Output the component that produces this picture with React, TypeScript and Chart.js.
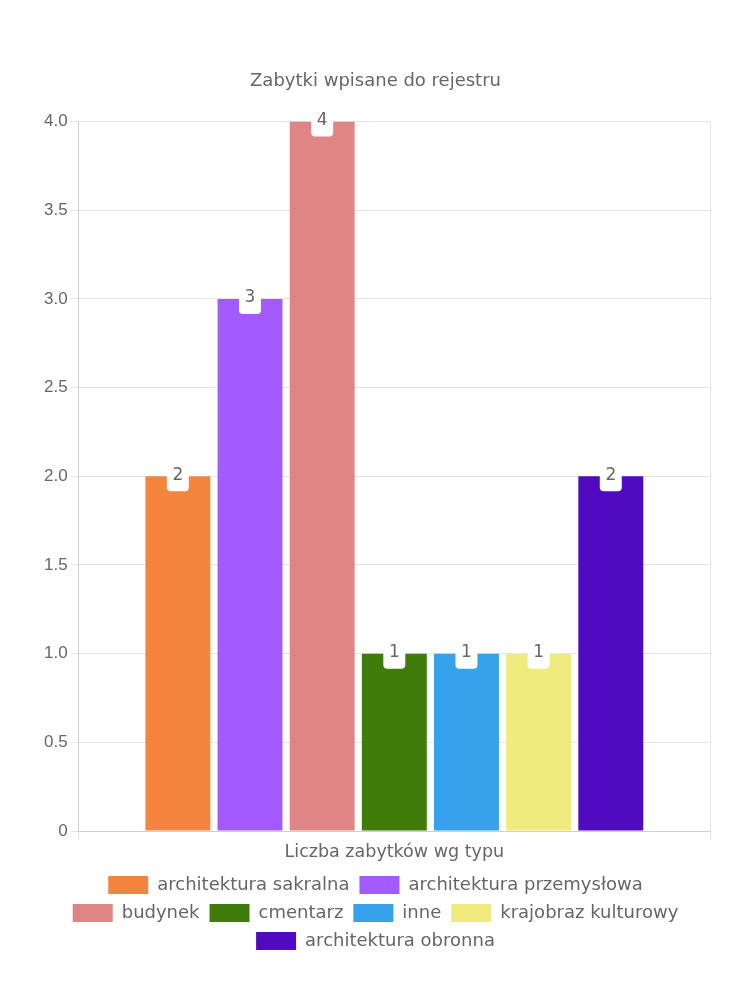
import React, { useEffect, useRef } from "react";
import { Chart, registerables } from "chart.js";

Chart.register(...registerables);

const categories = ["Liczba zabytków wg typu"];
const seriesNames = [
  "architektura sakralna",
  "architektura przemysłowa",
  "budynek",
  "cmentarz",
  "inne",
  "krajobraz kulturowy",
  "architektura obronna",
];
const seriesValues = [2, 3, 4, 1, 1, 1, 2];
const seriesColors = [
  "#F5843F",
  "#A35BFF",
  "#E08585",
  "#3F7C0A",
  "#36A2EB",
  "#F0EB7D",
  "#500BC1",
];
const chartTitle = "Zabytki wpisane do rejestru";

const FONT = "'DejaVu Sans', sans-serif";

const labelPlugin = {
  id: "barTopLabels",
  afterDatasetsDraw(chart: any) {
    const ctx = chart.ctx;
    chart.data.datasets.forEach((ds: any, i: number) => {
      const meta = chart.getDatasetMeta(i);
      meta.data.forEach((bar: any, j: number) => {
        const v = ds.data[j];
        const x = bar.x;
        const y = bar.y;
        ctx.save();
        ctx.fillStyle = "#ffffff";
        ctx.beginPath();
        (ctx as any).roundRect(x - 11, y - 14, 22, 29, 4);
        ctx.fill();
        ctx.fillStyle = "#666666";
        ctx.font = `17px ${FONT}`;
        ctx.textAlign = "center";
        ctx.textBaseline = "middle";
        ctx.fillText(String(v), x, y - 1);
        ctx.restore();
      });
    });
  },
};

export default function App() {
  const ref = useRef<HTMLCanvasElement>(null);
  useEffect(() => {
    if (!ref.current) return;
    const chart = new Chart(ref.current, {
      type: "bar",
      data: {
        labels: categories,
        datasets: seriesNames.map((name, i) => ({
          label: name,
          data: [seriesValues[i]],
          backgroundColor: seriesColors[i],
          borderWidth: 0,
        })),
      },
      options: {
        animation: false,
        responsive: true,
        maintainAspectRatio: false,
        layout: { padding: { left: 33, right: 32, top: 63, bottom: 32 } },
        plugins: {
          title: {
            display: true,
            text: chartTitle,
            color: "#666",
            font: { family: FONT, size: 18, weight: "normal" },
            padding: { top: 0, bottom: 29 },
          },
          legend: {
            position: "bottom",
            labels: {
              color: "#666",
              font: { family: FONT, size: 18, weight: "normal" },
              boxWidth: 40,
              boxHeight: 18,
              padding: 10,
            },
          },
          tooltip: { enabled: false },
        },
        scales: {
          x: {
            grid: { color: "rgba(0,0,0,0.1)", offset: true },
            ticks: { color: "#666", font: { family: FONT, size: 17.5, weight: "normal" } },
          },
          y: {
            min: 0,
            max: 4,
            ticks: {
              stepSize: 0.5,
              color: "#666",
              font: { family: "'Liberation Sans', Arial, sans-serif", size: 17 },
            },
            grid: { color: "rgba(0,0,0,0.1)" },
          },
        },
      },
      plugins: [labelPlugin],
    });
    return () => chart.destroy();
  }, []);
  return (
    <div style={{ width: 734, height: 984, position: "relative" }}>
      <canvas ref={ref} />
    </div>
  );
}
